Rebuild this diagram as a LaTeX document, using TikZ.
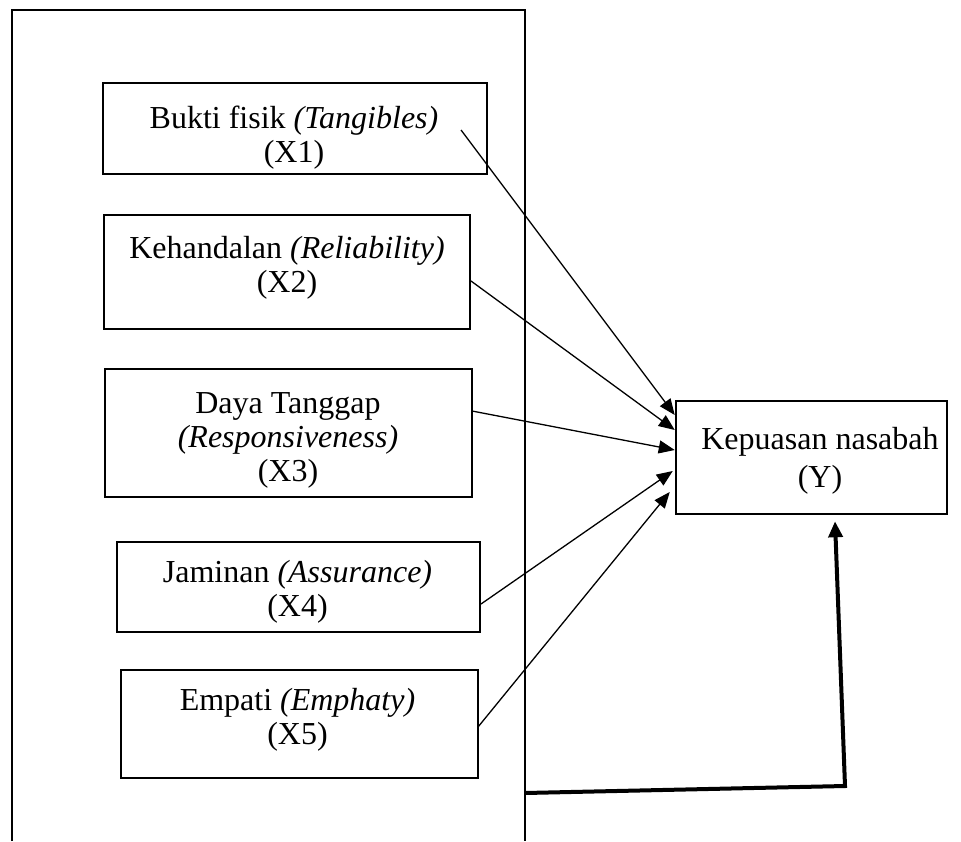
\documentclass[tikz,border=0pt]{standalone}
\usepackage{fontspec}
\setmainfont{Liberation Serif}
\usetikzlibrary{arrows.meta}

\tikzset{
  box/.style={draw, line width=2.5pt, inner sep=0pt},
  lbl/.style={align=center, inner sep=0pt, font=\fontsize{32}{34}\selectfont},
  link/.style={line width=1.3pt, -{Triangle[length=16pt,width=13pt]}},
  back/.style={line width=4pt, -{Triangle[length=16pt,width=14pt]}}
}

\begin{document}
\begin{tikzpicture}[x=1pt,y=-1pt]
      \useasboundingbox (0,0) rectangle (961,841);
      % open frame round the five dimensions
      \coordinate (fbl) at (12,841); \coordinate (ftl) at (12,10);
      \coordinate (ftr) at (525,10); \coordinate (fbr) at (525,841);
      \draw [line width=2pt] (fbl) -- (ftl) -- (ftr) -- (fbr);
      % boxes
      \node [box, minimum width=384, minimum height=91] (x1) at (295,128.5) {};
      \node [box, minimum width=366, minimum height=114] (x2) at (287,272) {};
      \node [box, minimum width=367, minimum height=128] (x3) at (288.5,433) {};
      \node [box, minimum width=363, minimum height=90] (x4) at (298.5,587) {};
      \node [box, minimum width=357, minimum height=108] (x5) at (299.5,724) {};
      \node [box, minimum width=271, minimum height=113] (y) at (811.5,457.5) {};
      % texts
      \node [lbl] (t1) at (294,138) {Bukti fisik \textit{(Tangibles)}\\(X1)};
      \node [lbl] (t2) at (287,268) {Kehandalan \textit{(Reliability)}\\(X2)};
      \node [lbl] (t3) at (288,440) {Daya Tanggap\\\textit{(Responsiveness)}\\(X3)};
      \node [lbl] (t4) at (297.5,591.5) {Jaminan \textit{(Assurance)}\\(X4)};
      \node [lbl] (t5) at (297.5,720) {Empati \textit{(Emphaty)}\\(X5)};
      \node [lbl, font=\fontsize{32}{38}\selectfont] (ty) at (820,461)
      {Kepuasan nasabah\\(Y)};
      % arrows into Y
      \coordinate (s1) at (461,130); \coordinate (s2) at (471,281);
      \coordinate (s3) at (472,411); \coordinate (s4) at (481,604);
      \coordinate (s5) at (478,727);
      \draw [link] (s1) -- ([yshift=42.5pt]y.west);
      \draw [link] (s2) -- ([yshift=27.5pt]y.west);
      \draw [link] (s3) -- ([yshift=7.5pt]y.west);
      \draw [link] (s4) -- ([xshift=-2pt,yshift=-13.5pt]y.west);
      \draw [link] (s5) -- ([xshift=-5pt,yshift=-34.5pt]y.west);
      % joint effect from the frame
      \coordinate (b0) at (525,793); \coordinate (b1) at (845,786);
      \draw [back] (b0) -- (b1) -- ([xshift=23.5pt,yshift=-6pt]y.south);
    \end{tikzpicture}
\end{document}
